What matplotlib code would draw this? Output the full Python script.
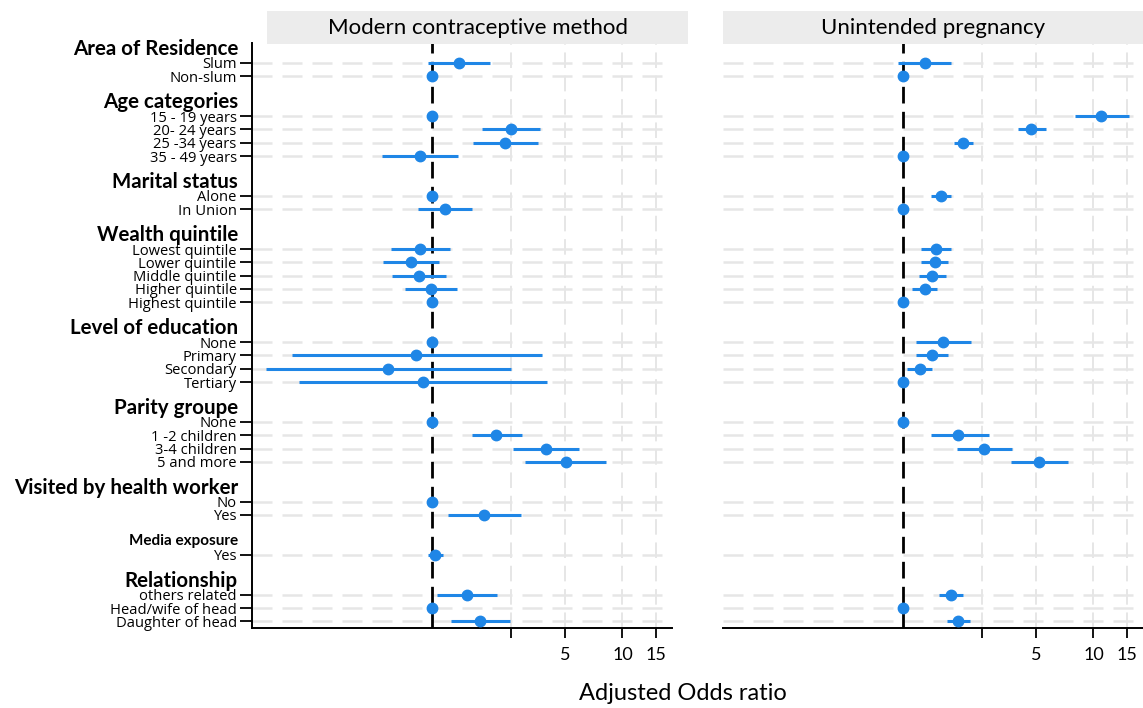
import numpy as np
import matplotlib
matplotlib.use("Agg")
import matplotlib.pyplot as plt
import matplotlib.transforms as mtransforms
from matplotlib.patches import Rectangle

# groups and row labels
groups = ["Area of Residence", "Age categories", "Marital status", "Wealth quintile",
          "Level of education", "Parity groupe", "Visited by health worker",
          "Media exposure", "Relationship"]
group_sizes = [2, 4, 2, 5, 4, 4, 2, 1, 3]
labels = ["Slum", "Non-slum",
          "15 - 19 years", "20- 24 years", "25 -34 years", "35 - 49 years",
          "Alone", "In Union",
          "Lowest quintile", "Lower quintile", "Middle quintile", "Higher quintile", "Highest quintile",
          "None", "Primary", "Secondary", "Tertiary",
          "None", "1 -2 children", "3-4 children", "5 and more",
          "No", "Yes",
          "Yes",
          "others related", "Head/wife of head", "Daughter of head"]

# Modern contraceptive method (AOR, lower, upper)
mcm_or = [1.39, 1.0, 1.0, 2.61, 2.43, 0.87, 1.0, 1.17, 0.87, 0.78, 0.86, 0.99, 1.0,
          1.0, 0.83, 0.59, 0.90, 1.0, 2.18, 3.98, 5.05, 1.0, 1.89, 1.04, 1.53, 1.0, 1.79]
mcm_lo = [0.96, 1.0, 1.0, 1.83, 1.65, 0.55, 1.0, 0.85, 0.61, 0.556, 0.62, 0.72, 1.0,
          1.0, 0.184, 0.135, 0.20, 1.0, 1.62, 2.66, 3.10, 1.0, 1.22, 0.96, 1.07, 1.0, 1.26]
mcm_hi = [2.02, 1.0, 1.0, 3.70, 3.60, 1.38, 1.0, 1.63, 1.25, 1.09, 1.19, 1.35, 1.0,
          1.0, 3.78, 2.59, 4.03, 1.0, 2.98, 5.93, 8.18, 1.0, 2.92, 1.14, 2.19, 1.0, 2.56]

# Unintended pregnancy (no estimates for health worker / media exposure)
nan = np.nan
up_or = [1.30, 1.0, 11.0, 4.69, 2.08, 1.0, 1.58, 1.0, 1.49, 1.47, 1.43, 1.31, 1.0,
         1.63, 1.42, 1.23, 1.0, 1.0, 1.94, 2.66, 5.19, nan, nan, nan, 1.79, 1.0, 1.95]
up_lo = [0.94, 1.0, 7.98, 4.01, 1.86, 1.0, 1.40, 1.0, 1.25, 1.25, 1.21, 1.12, 1.0,
         1.17, 1.18, 1.05, 1.0, 1.0, 1.41, 1.93, 3.68, nan, nan, nan, 1.55, 1.0, 1.70]
up_hi = [1.80, 1.0, 15.3, 5.61, 2.33, 1.0, 1.79, 1.0, 1.79, 1.73, 1.68, 1.52, 1.0,
         2.27, 1.72, 1.43, 1.0, 1.0, 2.83, 3.74, 7.38, nan, nan, nan, 2.06, 1.0, 2.25]

panel_titles = ["Modern contraceptive method", "Unintended pregnancy"]
xticks = [2.6, 5, 10, 15]
xticklabels = ["", "5", "10", "15"]

# row positions: heading slot, items, blank slot
pos, head_pos = [], []
p = -1
for n in group_sizes:
    head_pos.append(p)
    pos.extend(range(p + 1, p + 1 + n))
    p = p + n + 2
pos = np.array(pos)

blue = "#1f86e6"
grid_c = "#e6e6e6"

fig = plt.figure(figsize=(11.43, 7.08), dpi=100)
W, H = 1143, 708
ax1 = fig.add_axes([252 / W, 1 - 628 / H, 420 / W, 585 / H])
ax2 = fig.add_axes([723 / W, 1 - 628 / H, 420 / W, 585 / H])

data = [(mcm_or, mcm_lo, mcm_hi), (up_or, up_lo, up_hi)]
for ax, (o, lo, hi) in zip([ax1, ax2], data):
    o, lo, hi = np.array(o), np.array(lo), np.array(hi)
    ax.set_xscale("log")
    ax.set_xlim(0.114, 18.2)
    ax.set_ylim(42.5, -1.5)
    for y in pos:
        ax.axhline(y, color=grid_c, lw=1.8, dashes=(8, 4), zorder=0)
    for x in xticks:
        ax.axvline(x, color=grid_c, lw=1.4, dashes=(8, 4), zorder=0)
    ax.axvline(1, color="black", lw=2, dashes=(6, 3), zorder=1)
    ok = ~np.isnan(o)
    ax.hlines(pos[ok], lo[ok], hi[ok], color=blue, lw=2.2, zorder=2)
    ax.plot(o[ok], pos[ok], "o", color=blue, ms=7.5, zorder=3)
    ax.set_xticks(xticks)
    ax.set_xticklabels(xticklabels, fontsize=13, family="Lato")
    ax.xaxis.set_minor_locator(matplotlib.ticker.NullLocator())
    ax.tick_params(axis="x", length=7, width=1.3, direction="out", pad=7)
    for s in ["top", "right"]:
        ax.spines[s].set_visible(False)
    ax.spines["bottom"].set_linewidth(1.4)
    ax.spines["left"].set_linewidth(1.4)

ax1.set_yticks(pos)
ax1.set_yticklabels(labels, fontsize=10.6, family="Open Sans")
ax1.tick_params(axis="y", length=9, width=1.3, pad=2)
trans = mtransforms.blended_transform_factory(ax1.transAxes, ax1.transData)
for g, hp in zip(groups, head_pos):
    fs = 11 if g == "Media exposure" else 14.8
    ax1.text(-14 / 420, hp - 0.05, g, transform=trans, ha="right", va="center",
             fontsize=fs, fontweight="bold", family="Lato")

ax2.spines["left"].set_visible(False)
ax2.set_yticks([])

# strip headers
for (x0, x1), t in zip([(267, 688), (723, 1143)], panel_titles):
    fig.add_artist(Rectangle((x0 / W, 1 - 44 / H), (x1 - x0) / W, 33 / H,
                             transform=fig.transFigure, color="#ececec", lw=0))
    fig.text((x0 + x1) / 2 / W, 1 - 28 / H, t, ha="center", va="center",
             fontsize=16, family="Lato")

fig.text(683 / W, 1 - 694 / H, "Adjusted Odds ratio", ha="center", va="center",
         fontsize=17, family="Lato")

fig.savefig("out.png", dpi=100)
